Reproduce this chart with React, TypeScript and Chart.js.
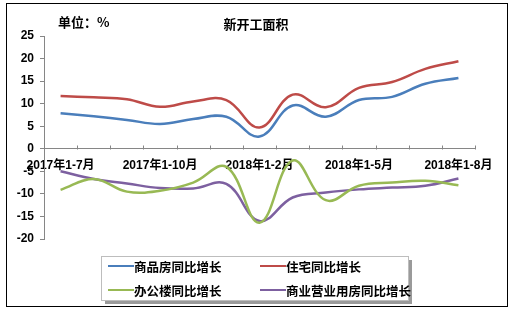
import React, { useEffect, useRef } from "react";
import { Chart, registerables } from "chart.js";

Chart.register(...registerables);

const categories = [
  "2017年1-7月", "2017年1-8月", "2017年1-9月", "2017年1-10月", "2017年1-11月", "2017年1-12月",
  "2018年1-2月", "2018年1-3月", "2018年1-4月", "2018年1-5月", "2018年1-6月", "2018年1-7月", "2018年1-8月",
];
const commercialHousing = [7.9, 7.2, 6.4, 5.5, 6.6, 7.1, 2.7, 9.6, 7.1, 10.8, 11.5, 14.4, 15.7];
const residential = [11.7, 11.4, 11.0, 9.3, 10.5, 10.8, 4.7, 12.0, 9.2, 13.5, 14.8, 17.7, 19.4];
const office = [-9.1, -6.7, -9.5, -9.3, -7.5, -4.0, -16.4, -2.6, -11.4, -8.2, -7.5, -7.1, -8.1];
const businessUse = [-5.0, -6.7, -7.7, -8.7, -8.8, -7.8, -16.0, -10.8, -9.7, -9.0, -8.6, -8.2, -6.6];
const seriesNames = ["商品房同比增长", "住宅同比增长", "办公楼同比增长", "商业营业用房同比增长"];
const seriesColors = ["#4A7EBB", "#BE4B48", "#98B954", "#7D60A0"];
const titleText = "新开工面积";
const unitText = "单位：%";

const FONT = "'Liberation Sans', 'Noto Sans CJK SC', sans-serif";
const CJK = "'Noto Sans CJK SC', 'Liberation Sans', sans-serif";

export default function App() {
  const ref = useRef<HTMLCanvasElement | null>(null);
  useEffect(() => {
    if (!ref.current) return;
    const decor = {
      id: "decor",
      beforeDraw(chart: any) {
        const c = chart.ctx;
        c.save();
        c.fillStyle = "#fff";
        c.fillRect(0, 0, chart.width, chart.height);
        c.strokeStyle = "#000";
        c.lineWidth = 1;
        c.strokeRect(6.5, 3.5, 501, 303);
        c.fillStyle = "#000";
        c.font = `bold 13px ${CJK}`;
        c.textBaseline = "middle";
        c.textAlign = "left";
        c.fillText(unitText, 58, 22);
        c.textAlign = "center";
        c.fillText(titleText, 256, 24);
        c.restore();
      },
      afterDraw(chart: any) {
        const c = chart.ctx;
        const xs = chart.scales.x;
        const ys = chart.scales.y;
        const y0 = Math.round(ys.getPixelForValue(0)) + 0.5;
        c.save();
        c.strokeStyle = "#868686";
        c.lineWidth = 1;
        for (let i = 0; i <= categories.length; i++) {
          const x = Math.round(xs.getPixelForValue(i - 0.5)) + 0.5;
          c.beginPath();
          c.moveTo(x, y0);
          c.lineTo(x, y0 - 4);
          c.stroke();
        }
        // legend
        const bx = 101, by = 256, bw = 307, bh = 44;
        c.fillStyle = "#9a9a9a";
        c.fillRect(bx + 4, by + 4, bw, bh);
        c.fillStyle = "#fff";
        c.fillRect(bx, by, bw, bh);
        c.strokeStyle = "#bdbdbd";
        c.strokeRect(bx + 0.5, by + 0.5, bw, bh);
        const pos = [
          [108, 266], [260, 266], [108, 290], [260, 290],
        ];
        c.font = `bold 12.5px ${CJK}`;
        c.textBaseline = "middle";
        c.textAlign = "left";
        pos.forEach(([x, y], i) => {
          c.strokeStyle = seriesColors[i];
          c.lineWidth = 2;
          c.beginPath();
          c.moveTo(x, y);
          c.lineTo(x + 26, y);
          c.stroke();
          c.fillStyle = "#000";
          c.fillText(seriesNames[i], x + 26, y + 1);
        });
        c.restore();
      },
    };
    const datasets = [commercialHousing, residential, office, businessUse].map((d, i) => ({
      label: seriesNames[i],
      data: d,
      borderColor: seriesColors[i],
      backgroundColor: seriesColors[i],
      borderWidth: 2.5,
      pointRadius: 0,
      tension: 0.4,
      fill: false,
    }));
    const chart = new Chart(ref.current, {
      type: "line",
      data: { labels: categories, datasets },
      plugins: [decor],
      options: {
        responsive: false,
        animation: false,
        layout: { padding: { left: 0, top: 36, right: 39, bottom: 74 } },
        plugins: { legend: { display: false }, tooltip: { enabled: false } },
        scales: {
          x: {
            type: "category",
            position: { y: 0 } as any,
            offset: true,
            grid: { display: false, offset: true },
            border: { display: true, color: "#868686", width: 1 },
            ticks: {
              autoSkip: false,
              maxRotation: 0,
              padding: 2,
              color: "#000",
              font: { family: FONT, size: 12, weight: "bold" },
              callback: (_v: any, i: number) => (i % 3 === 0 ? categories[i] : ""),
            },
          },
          y: {
            min: -20,
            max: 25,
            afterFit: (s: any) => { s.width = 44; },
            grid: { display: true, drawOnChartArea: false, drawTicks: true, tickLength: 4, color: "#868686" },
            border: { display: true, color: "#868686", width: 1 },
            ticks: {
              stepSize: 5,
              padding: 6,
              color: "#000",
              font: { family: FONT, size: 12, weight: "bold" },
            },
          },
        },
      },
    });
    return () => chart.destroy();
  }, []);
  return (
    <div style={{ position: "absolute", left: 0, top: 0, width: 514, height: 313 }}>
      <canvas ref={ref} width={514} height={313} style={{ display: "block" }} />
    </div>
  );
}
